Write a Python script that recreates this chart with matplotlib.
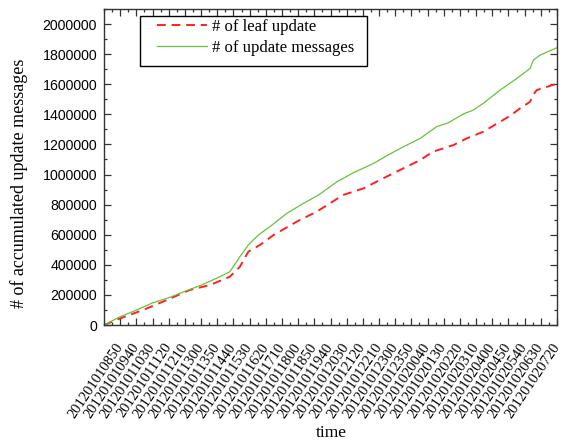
import matplotlib
matplotlib.use("Agg")
import matplotlib.pyplot as plt
from matplotlib.patches import Rectangle
from matplotlib.ticker import MultipleLocator

plt.rcParams.update({
    "font.family": "serif",
    "font.serif": ["Liberation Serif", "DejaVu Serif"],
    "mathtext.fontset": "stix",
})

# tick labels: one every 50 minutes, first at 08:50 (data starts 08:00)
tick_labels = [
    "201201010850", "201201010940", "201201011030", "201201011120",
    "201201011210", "201201011300", "201201011350", "201201011440",
    "201201011530", "201201011620", "201201011710", "201201011800",
    "201201011850", "201201011940", "201201012030", "201201012120",
    "201201012210", "201201012300", "201201012350", "201201020040",
    "201201020130", "201201020220", "201201020310", "201201020400",
    "201201020450", "201201020540", "201201020630", "201201020720",
]

# minutes since 08:00, cumulative counts
leaf_t = [0, 50, 121, 194, 265, 328, 389, 420, 446, 482, 524, 595, 657,
          698, 739, 802, 863, 925, 977, 1017, 1080, 1121, 1172, 1224, 1255,
          1286, 1317, 1326, 1337, 1394, 1400]
leaf_v = [0, 44000, 100000, 166000, 233000, 266000, 321000, 387000, 487000,
          532000, 598000, 686000, 753000, 808000, 864000, 908000, 975000,
          1041000, 1096000, 1152000, 1196000, 1240000, 1284000, 1351000,
          1390000, 1440000, 1484000, 1528000, 1561000, 1600000, 1606000]

msg_t = [0, 50, 101, 151, 204, 255, 302, 347, 389, 420, 446, 477, 519, 565,
         616, 663, 720, 771, 833, 878, 925, 977, 1028, 1064, 1110, 1141, 1172,
         1224, 1276, 1317, 1323, 1327, 1348, 1395, 1400]
msg_v = [0, 55000, 100000, 148000, 184000, 228000, 266000, 310000, 354000,
         454000, 532000, 598000, 664000, 742000, 808000, 864000, 952000,
         1012000, 1074000, 1130000, 1184000, 1240000, 1318000, 1344000,
         1402000, 1428000, 1473000, 1561000, 1639000, 1705000, 1740000,
         1761000, 1794000, 1838000, 1842000]

fig = plt.figure(figsize=(5.64, 4.44), dpi=100)
ax = fig.add_axes([0.1844, 0.268, 0.8032, 0.7117])

ax.plot(leaf_t, leaf_v, color="#ff2020", lw=1.4, ls=(0, (4.5, 3)),
        label="# of leaf update")
ax.plot(msg_t, msg_v, color="#66c23a", lw=0.9, label="# of update messages")

ax.set_xlim(0, 1400)
ax.set_ylim(0, 2100000)
ax.set_xticks([50 * (i + 1) for i in range(len(tick_labels))])
ax.set_xticklabels(tick_labels, rotation=56, ha="right", va="center",
                   rotation_mode="anchor", fontsize=10.5)
ax.xaxis.set_minor_locator(MultipleLocator(25))
ax.yaxis.set_minor_locator(MultipleLocator(100000))
ax.set_yticks(range(0, 2000001, 200000))
ax.set_yticklabels([str(v) for v in range(0, 2000001, 200000)],
                   family="Liberation Sans", fontsize=10.2)
ax.tick_params(which="both", direction="in", top=True, right=True,
               width=0.9, color="#333333")
ax.tick_params(which="major", length=5)
ax.tick_params(which="minor", length=2.5)
ax.tick_params(axis="x", which="major", pad=14)
ax.tick_params(axis="y", which="major", pad=5)
for s in ax.spines.values():
    s.set_linewidth(1.0)
    s.set_color("#333333")

ax.set_xlabel("time", fontsize=12.5)
ax.xaxis.set_label_coords(0.501, -0.318)
ax.set_ylabel("# of accumulated update messages", fontsize=13)
ax.yaxis.set_label_coords(-0.168, 0.449)

# legend box drawn as a plain rectangle, entries placed inside it
ax.add_patch(Rectangle((0.0795, 0.8196), 0.5011, 0.1584,
                       transform=ax.transAxes, fill=True, facecolor="white",
                       edgecolor="black", lw=1.0, zorder=4))
leg = ax.legend(loc="upper left", bbox_to_anchor=(0.117, 0.968),
                frameon=False, fontsize=12, handlelength=3.0,
                handletextpad=0.3, borderpad=0, borderaxespad=0,
                labelspacing=0.3)
leg.set_zorder(5)

fig.savefig("out.png", dpi=100, facecolor="white")
